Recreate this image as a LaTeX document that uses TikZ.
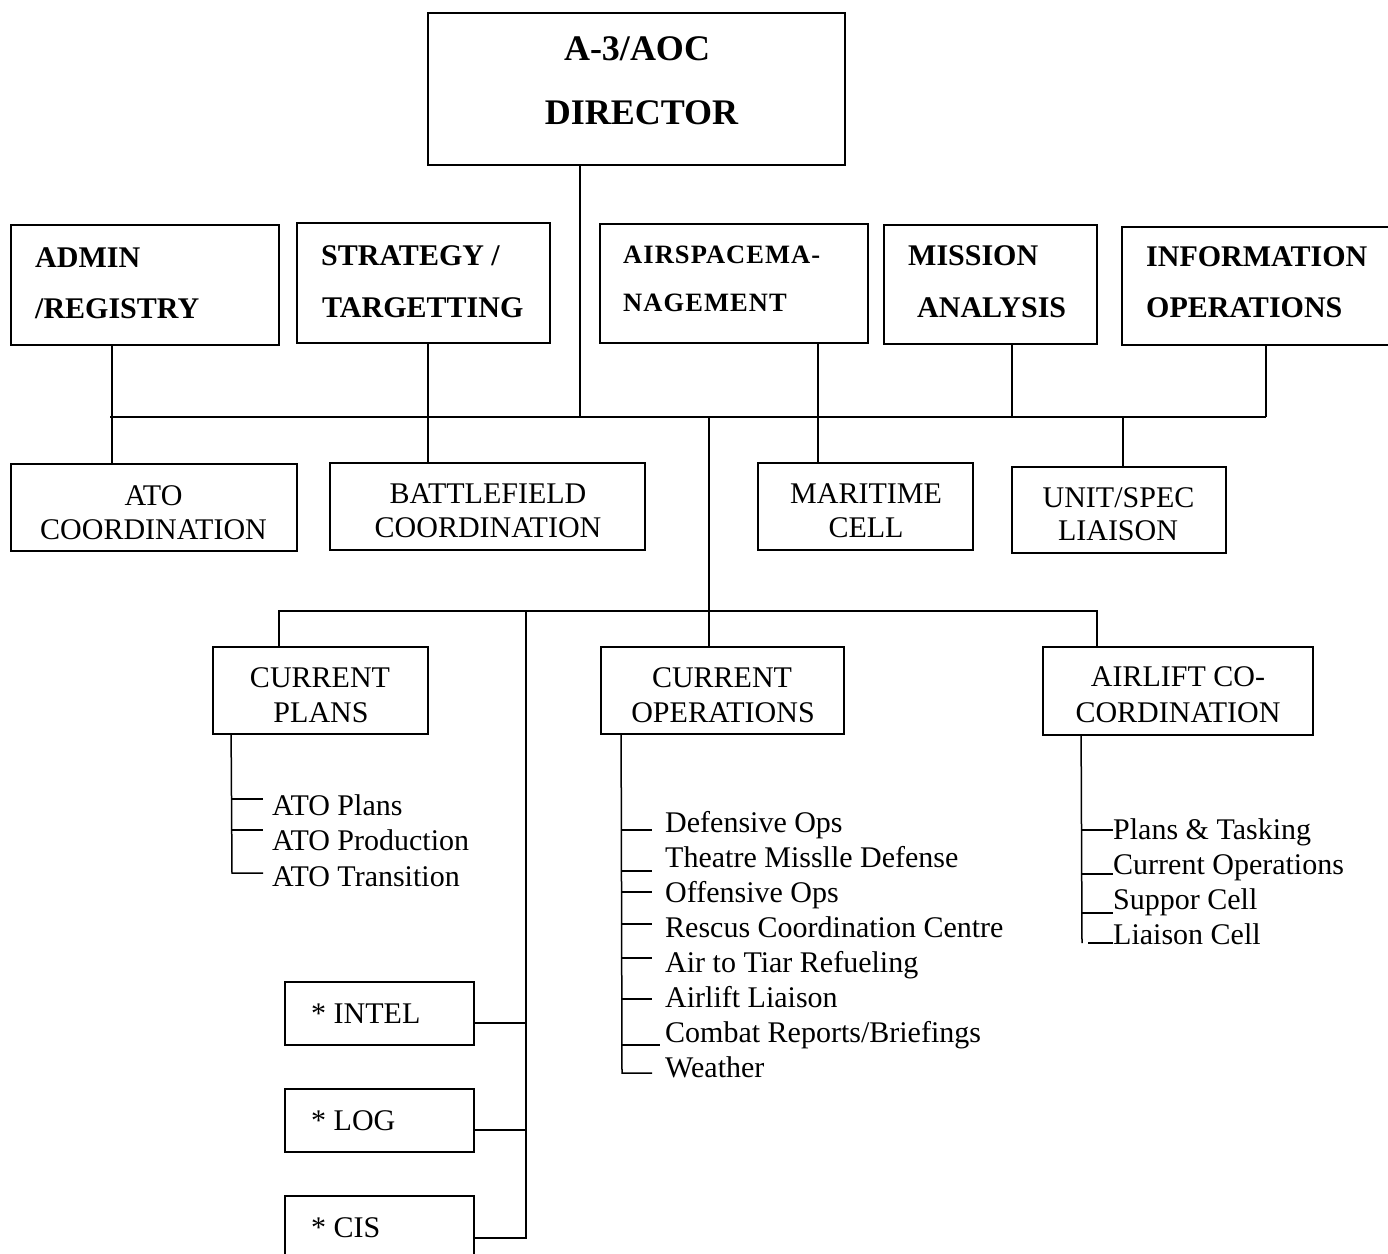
\documentclass[tikz,border=0pt]{standalone}
\usepackage{fontspec}
\setmainfont{Liberation Serif}
\newfontfamily\spacedserif[LetterSpace=4]{Liberation Serif}
\begin{document}
\begin{tikzpicture}[x=1pt,y=-1pt,
  box/.style={draw, line width=1.8pt, rectangle, inner sep=0pt},
  link/.style={line width=1.5pt},
  head/.style={font=\fontsize{30}{36}\selectfont\bfseries, inner sep=0pt, anchor=base west},
  chief/.style={font=\fontsize{36}{42}\selectfont\bfseries, inner sep=0pt, anchor=base},
  narrowhead/.style={font=\spacedserif\fontsize{26.5}{30}\selectfont\bfseries, inner sep=0pt, anchor=base west},
  cell/.style={font=\fontsize{30}{36}\selectfont, inner sep=0pt, anchor=base},
  item/.style={font=\fontsize{30}{36}\selectfont, inner sep=0pt, anchor=base west},
]
\useasboundingbox (0,0) rectangle (1388,1253);
\clip (0,0) rectangle (1388,1253);

% ---------- boxes ----------
\node[box, minimum width=417, minimum height=152] (dir)   at (636.5,89) {};
\node[box, minimum width=268, minimum height=120] (admin) at (145,285) {};
\node[box, minimum width=253, minimum height=120] (strat) at (423.5,283) {};
\node[box, minimum width=268, minimum height=119] (airsp) at (734,283.5) {};
\node[box, minimum width=213, minimum height=119] (miss)  at (990.5,284.5) {};
\node[box, minimum width=278, minimum height=118] (info)  at (1261,286) {};

\node[box, minimum width=286, minimum height=87] (ato)  at (154,507.5) {};
\node[box, minimum width=315, minimum height=87] (batt) at (487.5,506.5) {};
\node[box, minimum width=215, minimum height=87] (mari) at (865.5,506.5) {};
\node[box, minimum width=214, minimum height=86] (unit) at (1119,510) {};

\node[box, minimum width=215, minimum height=87] (cplans)  at (320.5,690.5) {};
\node[box, minimum width=243, minimum height=87] (cops)    at (722.5,690.5) {};
\node[box, minimum width=270, minimum height=88] (airlift) at (1178,691) {};

\node[box, minimum width=189, minimum height=63] (intel) at (379.5,1013.5) {};
\node[box, minimum width=189, minimum height=63] (log)   at (379.5,1120.5) {};
\node[box, minimum width=189, minimum height=63] (cis)   at (379.5,1227.5) {};

% ---------- box texts ----------
\node[chief] (t-dir1) at (637,60)  {A-3/AOC};
\node[chief] (t-dir2) at (641.5,124) {DIRECTOR};

\node[head] (t-admin1) at (35,267) {ADMIN};
\node[head] (t-admin2) at (35,318) {/REGISTRY};
\node[head] (t-strat1) at (321,265) {STRATEGY /};
\node[head] (t-strat2) at (322,317) {TARGETTING};
\node[narrowhead] (t-airsp1) at (623,263) {AIRSPACEMA-};
\node[narrowhead] (t-airsp2) at (623,311) {NAGEMENT};
\node[head] (t-miss1) at (908,265) {MISSION};
\node[head] (t-miss2) at (917,317) {ANALYSIS};
\node[head] (t-info1) at (1146,266) {INFORMATION};
\node[head] (t-info2) at (1146,317) {OPERATIONS};

\node[cell] (t-ato1)  at (153.5,505) {ATO};
\node[cell] (t-ato2)  at (153.5,539) {COORDINATION};
\node[cell] (t-batt1) at (488,503) {BATTLEFIELD};
\node[cell] (t-batt2) at (488,537) {COORDINATION};
\node[cell] (t-mari1) at (866,503) {MARITIME};
\node[cell] (t-mari2) at (866,537) {CELL};
\node[cell] (t-unit1) at (1118.5,507) {UNIT/SPEC};
\node[cell] (t-unit2) at (1118,540) {LIAISON};

\node[cell] (t-cplans1) at (320,687) {CURRENT};
\node[cell] (t-cplans2) at (321,722) {PLANS};
\node[cell] (t-cops1) at (722,687) {CURRENT};
\node[cell] (t-cops2) at (723,722) {OPERATIONS};
\node[cell] (t-air1) at (1178,686) {AIRLIFT CO-};
\node[cell] (t-air2) at (1178,722) {CORDINATION};

\node[item] (t-intel) at (311,1023) {* INTEL};
\node[item] (t-log)   at (311,1130) {* LOG};
\node[item] (t-cis)   at (311,1237) {* CIS};

% ---------- upper bus ----------
\coordinate (busW) at (110,417);
\coordinate (busE) at (1266,417);
\coordinate (hubT) at (709,417);
\coordinate (hubB) at (709,611);
\coordinate (spine) at (526,611);

\draw[link] (busW) -- (busE);
\draw[link] ([xshift=-33pt]admin.south) -- ([xshift=-42pt]ato.north);
\draw[link] ([xshift=4.5pt]strat.south) -- ([xshift=-59.5pt]batt.north);
\draw[link] ([xshift=-56.5pt]dir.south) |- (busE);
\draw[link] ([xshift=84pt]airsp.south) -- ([xshift=-47.5pt]mari.north);
\draw[link] ([xshift=21.5pt]miss.south) |- (busE);
\draw[link] ([xshift=5pt]info.south) -- (busE);
\draw[link] ([xshift=4pt]unit.north) |- (busE);

% ---------- lower bus ----------
\draw[link] (hubT) -- (hubB);
\draw[link] ([xshift=-41.5pt]cplans.north) |- (hubB);
\draw[link] ([xshift=-81pt]airlift.north) |- (hubB);
\draw[link] ([xshift=-13.5pt]cops.north) -- (hubB);

% ---------- support staff ----------
\draw[link] ([yshift=-9.5pt]intel.east) -| (spine);
\draw[link] ([yshift=-9.5pt]log.east) -| (spine);
\draw[link] ([yshift=-10.5pt]cis.east) -| (spine);

% ---------- current plans list ----------
\draw[link] ([xshift=19pt]cplans.south west) -- (232,873) -- (263,873);
\draw[link] (232,799) -- (263,799);
\draw[link] (232,830) -- (263,830);
\node[item] (p1) at (272,815)   {ATO Plans};
\node[item] (p2) at (272,850.5) {ATO Production};
\node[item] (p3) at (272,886)   {ATO Transition};

% ---------- current operations list ----------
\draw[link] ([xshift=21pt]cops.south west) -- (622,1073) -- (652,1073);
\foreach \ty in {830,871,892,924,958,999}
  \draw[link] (622,\ty) -- (652,\ty);
\draw[link] (622,1045) -- (660,1045);
\foreach \lbl [count=\i from 0] in {Defensive Ops,Theatre Misslle Defense,Offensive Ops,Rescus Coordination Centre,Air to Tiar Refueling,Airlift Liaison,Combat Reports/Briefings,Weather}
  \node[item] (o\i) at (665,832+35*\i) {\lbl};

% ---------- airlift list ----------
\draw[link] ([xshift=39pt]airlift.south west) -- (1082,943);
\draw[link] (1082,830) -- (1113,830);
\draw[link] (1082,874) -- (1113,874);
\draw[link] (1082,913) -- (1113,913);
\draw[link] (1088,943) -- (1113,943);
\node[item] (a1) at (1113,839) {Plans \& Tasking};
\node[item] (a2) at (1113,874) {Current Operations};
\node[item] (a3) at (1113,909) {Suppor Cell};
\node[item] (a4) at (1113,944) {Liaison Cell};

\end{tikzpicture}
\end{document}
